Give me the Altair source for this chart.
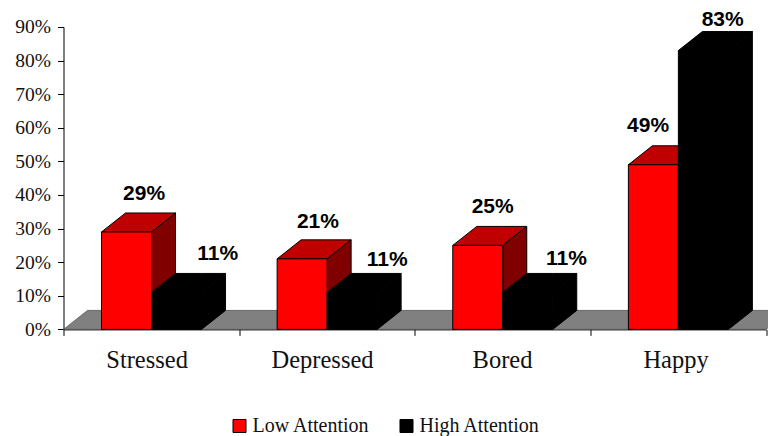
import altair as alt
import pandas as pd

categories = ["Stressed", "Depressed", "Bored", "Happy"]
low_attention = [29, 21, 25, 49]
high_attention = [11, 11, 11, 83]
series_names = ["Low Attention", "High Attention"]

# drawing constants, in axis units
GAP = 0.2164
BAR = 0.2847
DX = 0.1367
DY = 5.65
PX_PER_UNIT = 3.36
# label nudges per bar (category units sideways, px above the rear top edge)
low_shift = [0.10, 0.09, 0.085, -0.03]
high_shift = [0.235, 0.20, 0.22, 0.11]
low_lift = [19, 18, 19, 20]
high_lift = [19, 13, 14, 12]
# where each category name sits along the axis (the source centres them slightly unevenly)
name_ticks = [0.473, 1.472, 2.497, 3.485]

fronts, tops, sides, labels = [], [], [], []
for s, (name, vals, shift, lift) in enumerate(
    [(series_names[0], low_attention, low_shift, low_lift),
     (series_names[1], high_attention, high_shift, high_lift)]):
    for i, v in enumerate(vals):
        x0 = i + GAP + s * BAR
        x1 = x0 + BAR
        key = f"{i}-{s}"
        fronts.append(dict(x0=x0, x1=x1, v=v, series=name, s=s))
        for px, up, lo in [(x0, v, v), (x0 + DX, v + DY, v), (x1, v + DY, v), (x1 + DX, v + DY, v + DY)]:
            tops.append(dict(px=px, up=up, lo=lo, key=key, s=s))
        for px, up, lo in [(x1, v, 0), (x1 + DX, v + DY, DY)]:
            sides.append(dict(px=px, up=up, lo=lo, key=key, s=s))
        labels.append(dict(x=(x0 + x1) / 2 + shift[i], v=v + DY + lift[i] / PX_PER_UNIT, text=f"{v}%"))

floor = pd.DataFrame([
    dict(px=0, up=0, lo=0),
    dict(px=DX, up=DY, lo=0),
    dict(px=4, up=DY, lo=0),
    dict(px=4 + DX, up=DY, lo=DY),
])
fronts, tops, sides, labels = map(pd.DataFrame, (fronts, tops, sides, labels))

x_scale = alt.Scale(domain=[0, 4], nice=False, zero=False)
y_scale = alt.Scale(domain=[0, 90], nice=False)

x_axis = alt.Axis(
    values=sorted([0, 1, 2, 3, 4] + name_ticks), title=None, grid=False,
    labelExpr="datum.value % 1 == 0 ? '' : " + str(categories) + "[floor(datum.value)]",
    labelFontSize=24.5, labelPadding=13,
    labelOverlap=False, labelBound=False, labelFlush=False,
    tickOpacity=alt.condition("datum.value % 1 == 0", alt.value(1), alt.value(0)),
)
y_axis = alt.Axis(
    values=list(range(0, 100, 10)), title=None, grid=False,
    labelExpr="datum.value + '%'",
    labelFontSize=19.5, labelPadding=7, labelBound=False,
)

X = alt.X("px:Q", scale=x_scale, axis=x_axis)
Y = alt.Y("up:Q", scale=y_scale, axis=y_axis)
Y2 = alt.Y2("lo:Q")


def faces(df, color, stroke):
    return alt.Chart(df).mark_area(
        color=color, stroke=stroke, strokeWidth=1, clip=False
    ).encode(x=X, y=Y, y2=Y2, detail="key:N")


def layer_for(s, top_col, side_col, stroke):
    return [
        faces(tops[tops.s == s], top_col, stroke),
        faces(sides[sides.s == s], side_col, stroke),
        alt.Chart(fronts[fronts.s == s]).mark_rect(stroke=stroke, strokeWidth=1, clip=False).encode(
            x=alt.X("x0:Q", scale=x_scale, axis=x_axis),
            x2="x1:Q",
            y=alt.Y("v:Q", scale=y_scale, axis=y_axis),
            y2=alt.Y2(datum=0),
            color=alt.Color(
                "series:N",
                scale=alt.Scale(domain=series_names, range=["#ff0000", "#000000"]),
                legend=alt.Legend(
                    title=None, orient="none", legendX=166, legendY=389, direction="horizontal",
                    columns=2, columnPadding=26, symbolType="square", symbolSize=170,
                    symbolStrokeColor="black", symbolStrokeWidth=1, symbolOpacity=1,
                    labelFont="Liberation Serif", labelFontSize=20, labelColor="#111",
                    labelOffset=3, labelLimit=300,
                ),
            ),
        ),
    ]


floor_layer = alt.Chart(floor).mark_area(
    color="#808080", stroke="#444", strokeWidth=0.7, clip=False
).encode(x=X, y=Y, y2=Y2)

text_layer = alt.Chart(labels).mark_text(
    font="Liberation Sans", fontWeight="bold", fontSize=21, color="#000",
    baseline="middle", align="center", clip=False
).encode(
    x=alt.X("x:Q", scale=x_scale, axis=x_axis),
    y=alt.Y("v:Q", scale=y_scale, axis=y_axis),
    text="text:N",
)

chart = alt.layer(
    floor_layer, *layer_for(0, "#c00000", "#800000", "black"),
    *layer_for(1, "#000000", "#000000", "black"), text_layer
).properties(
    width=702.5, height=302.4,
    autosize=alt.AutoSizeParams(type="none"),
    padding={"left": 55.5, "top": 19, "right": 2, "bottom": 106.5},
).configure_view(stroke=None).configure_axis(
    labelFont="Liberation Serif", labelColor="#111",
    tickColor="black", tickSize=6, domainColor="black",
)

chart.save("out.html", embed_options={"renderer": "svg", "actions": False})
